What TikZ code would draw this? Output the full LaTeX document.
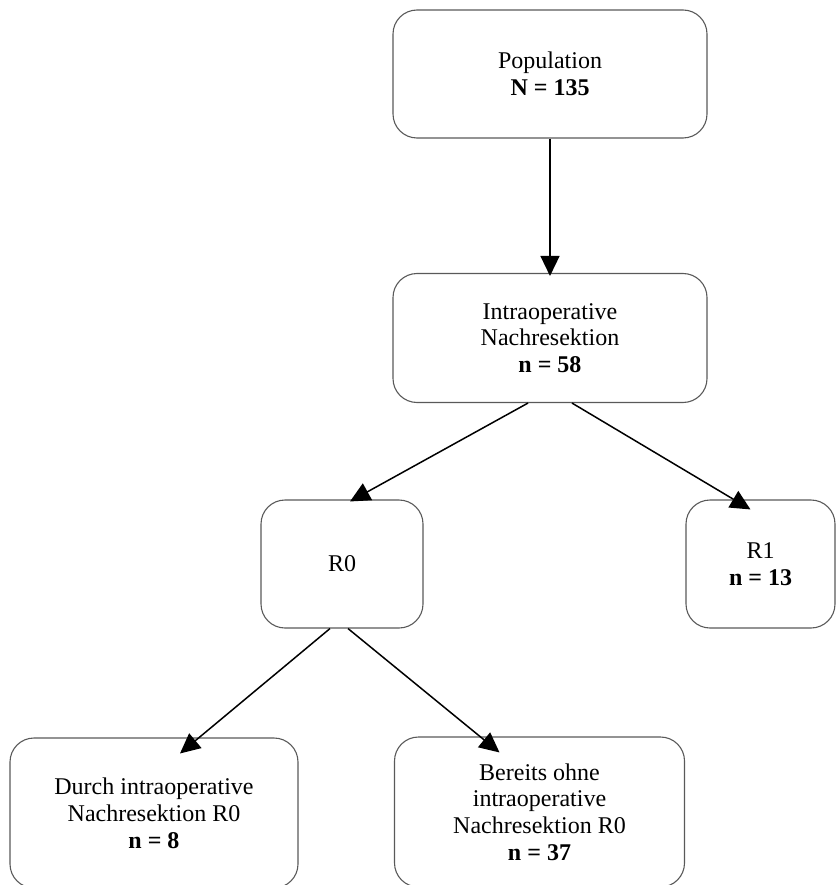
\documentclass[tikz,border=0pt]{standalone}
\usepackage{fontspec}
\setmainfont{Liberation Serif}
\usetikzlibrary{arrows.meta}
\begin{document}
\begin{tikzpicture}[x=1pt,y=-1pt,
  box/.style={draw=black!65, line width=1.1pt, rounded corners=24pt, align=center,
    font=\fontsize{24}{26.8}\selectfont, inner sep=0pt},
  arr/.style={line width=1.5pt, -{Triangle[width=19pt,length=20pt]}}]
\useasboundingbox (0,0) rectangle (836,885);
\clip (0,0) rectangle (836,885);
\node[box, minimum width=314pt, minimum height=128pt] (pop) at (550,74) {Population\\\textbf{N = 135}};
\node[box, minimum width=314pt, minimum height=129pt] (intra) at (550,338) {Intraoperative\\Nachresektion\\\textbf{n = 58}};
\node[box, minimum width=162pt, minimum height=128pt] (r0) at (342,564) {R0};
\node[box, minimum width=149pt, minimum height=128pt] (r1) at (760.5,564) {R1\\\textbf{n = 13}};
\node[box, minimum width=288pt, minimum height=150pt] (bl) at (154,813) {Durch intraoperative\\Nachresektion R0\\\textbf{n = 8}};
\node[box, minimum width=290pt, minimum height=150pt] (br) at (539.5,812) {Bereits ohne\\intraoperative\\Nachresektion R0\\\textbf{n = 37}};
\draw[arr] (pop.south) -- ([yshift=-3pt]intra.north);
\draw[arr] ([xshift=-22pt]intra.south) -- ([xshift=8pt,yshift=-2pt]r0.north);
\draw[arr] ([xshift=22pt]intra.south) -- ([xshift=-10pt,yshift=-10pt]r1.north);
\draw[arr] ([xshift=-12pt]r0.south) -- ([xshift=26pt,yshift=-16pt]bl.north);
\draw[arr] ([xshift=6pt]r0.south) -- ([xshift=-40pt,yshift=-16pt]br.north);
\end{tikzpicture}
\end{document}
